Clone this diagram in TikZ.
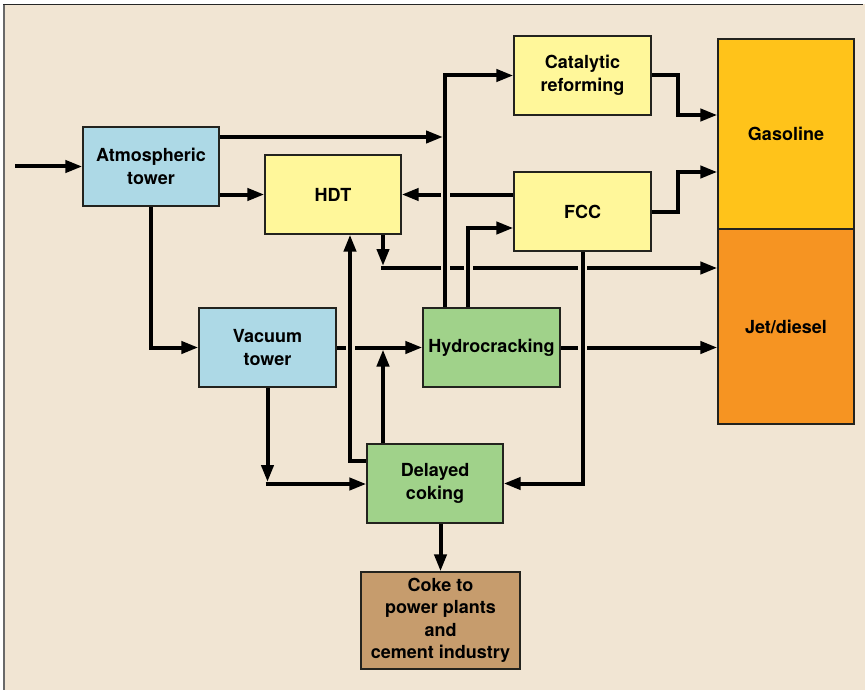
\documentclass[tikz,border=0pt]{standalone}
\usepackage{fontspec}
\setmainfont{TeX Gyre Heros}
\usetikzlibrary{arrows.meta}
\definecolor{bgc}{RGB}{241,229,211}
\definecolor{framegray}{RGB}{105,105,105}
\definecolor{boxline}{RGB}{35,35,30}
\definecolor{blue1}{RGB}{173,217,230}
\definecolor{yellow1}{RGB}{255,247,154}
\definecolor{green1}{RGB}{160,210,138}
\definecolor{gasc}{RGB}{255,195,26}
\definecolor{jetc}{RGB}{246,148,34}
\definecolor{cokec}{RGB}{198,156,109}
\pgfdeclarelayer{bglayer}
\pgfdeclarelayer{lineslayer}
\pgfsetlayers{bglayer,lineslayer,main}
\begin{document}
\begin{tikzpicture}[x=1pt,y=-1pt,
  box/.style={draw=boxline, line width=1.3pt, inner sep=0pt, align=center,
    font=\fontsize{18}{22.5}\selectfont\bfseries},
  flow/.style={line width=4pt, -{Triangle[length=17pt,width=12pt]}},
  gapline/.style={draw=bgc, line width=9pt}]
\useasboundingbox (0,0) rectangle (865,690);
\begin{pgfonlayer}{bglayer}
\fill[bgc] (3,4) rectangle (865,690);
\draw[framegray, line width=2pt] (3.5,4) -- (3.5,690);
\draw[black!85, line width=1.2pt] (3,4.5) -- (863,4.5);
\end{pgfonlayer}

% nodes
\node[box, fill=blue1, minimum width=136pt, minimum height=79pt] (atm) at (151,166.5) {Atmospheric\\tower};
\node[box, fill=yellow1, minimum width=136pt, minimum height=79pt] (hdt) at (333,194.5) {HDT};
\node[box, fill=yellow1, minimum width=137pt, minimum height=79pt] (cat) at (582.5,75.5) {Catalytic\\reforming};
\node[box, fill=yellow1, minimum width=137pt, minimum height=79pt] (fcc) at (582.5,211.5) {FCC};
\node[box, fill=gasc, minimum width=136pt, minimum height=190pt] (gas) at (786,134) {Gasoline};
\node[box, fill=jetc, minimum width=136pt, minimum height=195pt] (jet) at (786,326.5) {Jet/diesel};
\node[box, fill=blue1, minimum width=137pt, minimum height=79pt] (vac) at (267.5,347.5) {Vacuum\\tower};
\node[box, fill=green1, minimum width=137pt, minimum height=79pt] (hyd) at (491.5,347.5) {Hydrocracking};
\node[box, fill=green1, minimum width=136pt, minimum height=79pt] (cok) at (435,483.5) {Delayed\\coking};
\node[box, fill=cokec, minimum width=159pt, minimum height=97pt] (coke) at (440.5,620.5) {Coke to\\power plants\\and\\cement industry};

% helper coordinates
\coordinate (in) at (15,166.5);
\coordinate (hj) at (381,268);
\coordinate (c445) at (445,0);
\coordinate (hf) at (468,228);
\coordinate (ch) at (350,461);
\coordinate (am) at (443,137);
\coordinate (hd) at (383,266);
\coordinate (vd) at (267.5,482);
\coordinate (vc) at (265.5,484);
\coordinate (cm) at (383,349.5);
\coordinate (g1) at (678,115);
\coordinate (g2) at (678,172);

\begin{pgfonlayer}{lineslayer}
% lines that are crossed
\draw[flow] (fcc.west |- hdt) -- (hdt.east);
\draw[flow] (hj) -- (hj -| jet.west);
\draw[flow] (vac.east) -- (hyd.west);
\draw[flow] (hyd.east) -- (hyd.east -| jet.west);
% gaps at crossings
\foreach \x/\y in {445/194.5, 445/268, 468/268, 582.5/268, 582.5/347.5, 350/347.5}
  \draw[gapline] (\x,\y-7) -- (\x,\y+7);
% crossing lines
\draw[flow] (hyd.north -| c445) |- (cat.west);
\draw[flow] (hyd.north -| hf) -- (hf) -- (hf -| fcc.west);
\draw[flow] (fcc.south) |- (cok.east);
\draw[flow] (ch -| cok.west) -- (ch) -- (ch |- hdt.south);
% other connectors
\draw[flow] (am -| atm.east) -- (am);
\draw[flow] (atm.east |- hdt) -- (hdt.west);
\draw[flow] (in) -- (atm.west);
\draw[flow] (atm.south) -- (atm.south |- vac) -- (vac.west);
\draw[flow] (hdt.south -| hd) -- (hd);
\draw[flow] (vac.south) -- (vd);
\draw[flow] (vc) -- (vc -| cok.west);
\draw[flow] (cok.north -| cm) -- (cm);
\draw[flow] (cok.south -| coke.north) -- (coke.north);
\draw[flow] (cat.east) -| (g1) -- (g1 -| gas.west);
\draw[flow] (fcc.east) -| (g2) -- (g2 -| gas.west);
\end{pgfonlayer}
\end{tikzpicture}
\end{document}
